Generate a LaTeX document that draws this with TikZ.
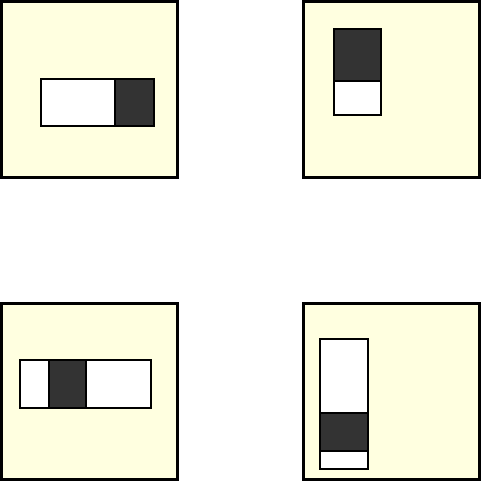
\documentclass[tikz,border=0pt]{standalone}
\begin{document}
\begin{tikzpicture}[x=1pt,y=-1pt,
  panel/.style={draw=black,line width=2.6pt,fill=lyellow},
  lightpart/.style={draw=black,line width=2pt,fill=white},
  darkpart/.style={draw=black,line width=2pt,fill=dgray}]
\definecolor{lyellow}{HTML}{FFFFE0}
\definecolor{dgray}{HTML}{333333}
\useasboundingbox (0,0) rectangle (482,482);
% top-left
\draw[panel] (1.5,1.5) rectangle (177.5,177.5);
\draw[lightpart] (41,79) rectangle (115.3,126.3);
\draw[darkpart] (115.3,79) rectangle (154.3,126.3);
% top-right
\draw[panel] (303.5,1.5) rectangle (479.5,177.5);
\draw[darkpart] (333.7,28.7) rectangle (381.3,81.3);
\draw[lightpart] (333.7,81.3) rectangle (381.3,115.3);
% bottom-left
\draw[panel] (1.5,303.5) rectangle (177.5,479.5);
\draw[lightpart] (20,360.3) rectangle (151.3,408);
\draw[darkpart] (49,360.3) rectangle (86.3,408);
% bottom-right
\draw[panel] (303.5,303.5) rectangle (479.5,479.5);
\draw[lightpart] (320.3,338.7) rectangle (368,469.3);
\draw[darkpart] (320.3,413.3) rectangle (368,450.7);
\end{tikzpicture}
\end{document}
